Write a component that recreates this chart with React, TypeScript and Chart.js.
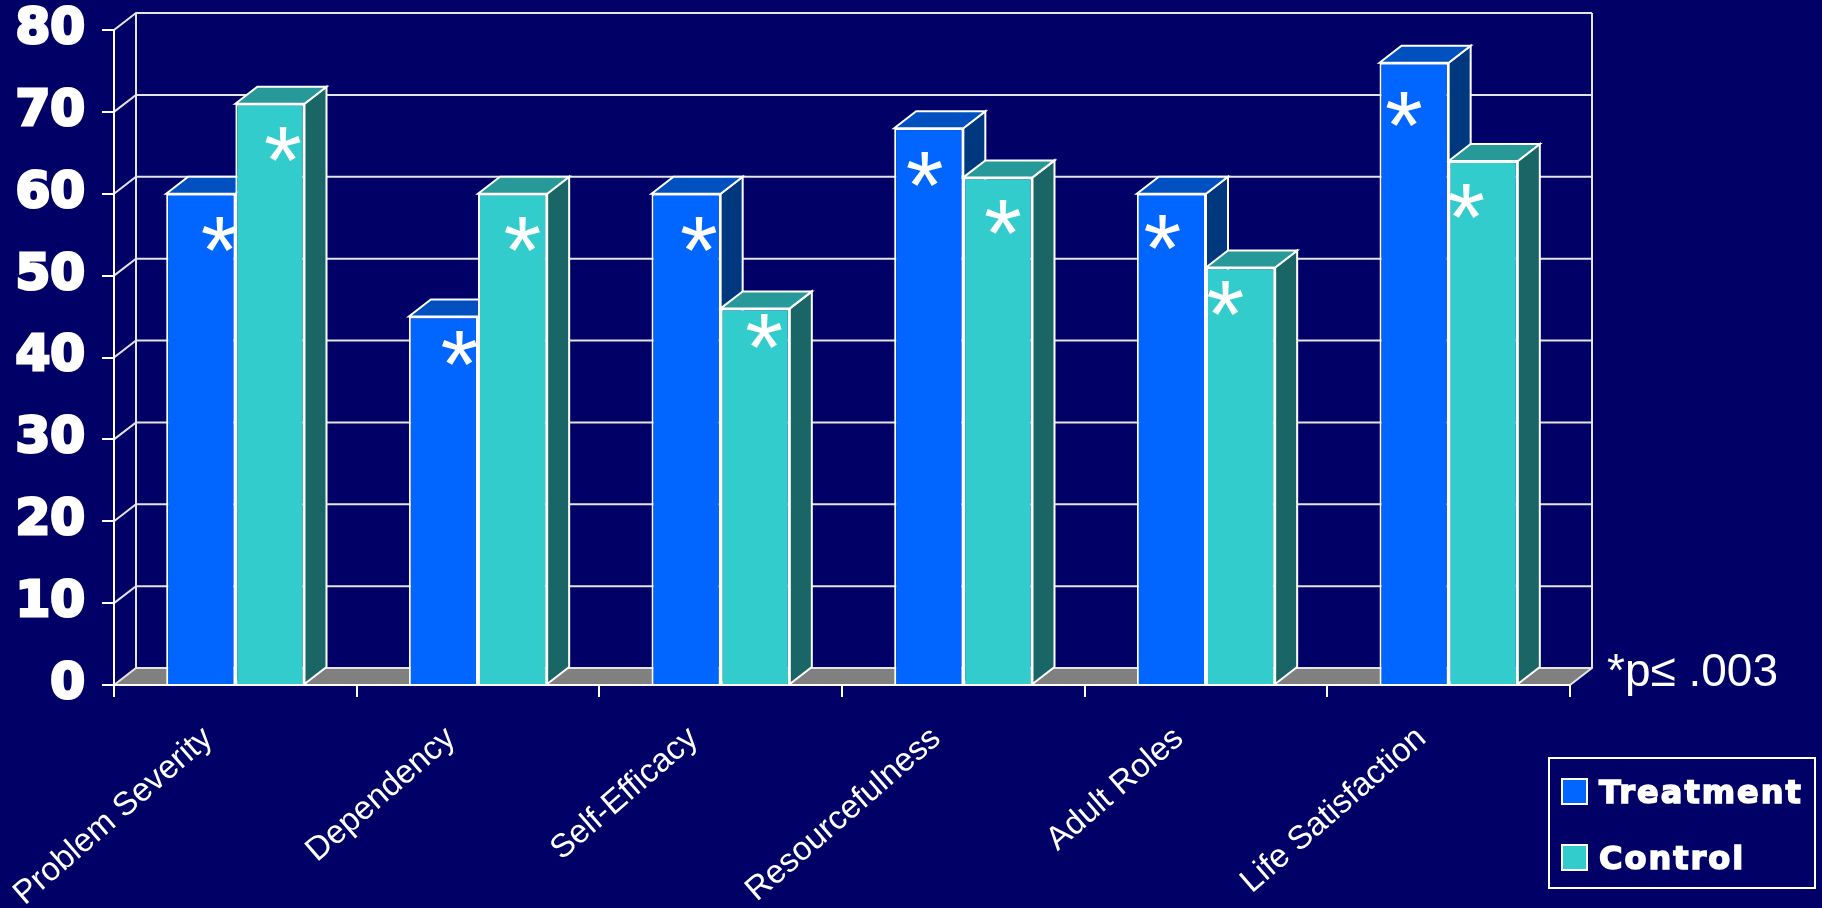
import React, { useEffect, useRef } from 'react';
import { Chart, registerables } from 'chart.js';

Chart.register(...registerables);

// ---------- data ----------
const categories = ['Problem Severity', 'Dependency', 'Self-Efficacy', 'Resourcefulness', 'Adult Roles', 'Life Satisfaction'];
const seriesLabels = ['Treatment', 'Control'];
const treatmentValues = [60, 45, 60, 68, 60, 76];
const controlValues = [71, 60, 46, 62, 51, 64];
const yTickValues = [0, 10, 20, 30, 40, 50, 60, 70, 80];
const barMarker = '*';
const significanceNote = '*p\u2264 .003';

// ---------- styling ----------
const BG = '#000066';
const FRONT = ['#0066FF', '#33CCCC'];
const TOP = ['#0050C0', '#279999'];
const SIDE = ['#00387F', '#1A6666'];
const FLOOR = '#808080';
const GRID = '#E4E4E4';
const DX = 22;
const DY = 17;
const markerShiftX = [[19, 16, 13, -4, -9, -10], [13, 10, 9, 5, -15, -17]];
const markerShiftY = [[40, 31, 40, 41, 38, 46], [40, 40, 23, 40, 31, 40]];

function poly(ctx: CanvasRenderingContext2D, pts: number[][]) {
  ctx.beginPath();
  ctx.moveTo(pts[0][0], pts[0][1]);
  for (let i = 1; i < pts.length; i++) ctx.lineTo(pts[i][0], pts[i][1]);
  ctx.closePath();
}

function drawGlyph(ctx: CanvasRenderingContext2D, glyph: string, family: string, cx: number, cy: number, h = 35) {
  ctx.save();
  ctx.font = `100px ${family}`;
  let m = ctx.measureText(glyph);
  const h100 = m.actualBoundingBoxAscent + m.actualBoundingBoxDescent;
  const size = (100 * h) / Math.max(h100, 1);
  ctx.font = `${size}px ${family}`;
  m = ctx.measureText(glyph);
  ctx.textAlign = 'left';
  ctx.textBaseline = 'alphabetic';
  const bx = cx - (m.actualBoundingBoxRight - m.actualBoundingBoxLeft) / 2;
  const by = cy + (m.actualBoundingBoxAscent - m.actualBoundingBoxDescent) / 2;
  ctx.fillStyle = '#FFFFFF';
  ctx.fillText(glyph, bx, by);
  ctx.restore();
}

const threeD = {
  id: 'threeD',
  beforeDraw(chart: any) {
    const ctx = chart.ctx;
    ctx.save();
    ctx.fillStyle = BG;
    ctx.fillRect(0, 0, chart.width, chart.height);
    ctx.restore();
  },
  beforeDatasetsDraw(chart: any) {
    const ctx: CanvasRenderingContext2D = chart.ctx;
    const { left, right, top, bottom } = chart.chartArea;
    const ys = chart.scales.y;
    ctx.save();
    ctx.fillStyle = FLOOR;
    poly(ctx, [[left, bottom], [right, bottom], [right + DX, bottom - DY], [left + DX, bottom - DY]]);
    ctx.fill();
    ctx.strokeStyle = GRID;
    ctx.lineWidth = 2;
    yTickValues.forEach((v) => {
      const py = ys.getPixelForValue(v);
      ctx.beginPath();
      ctx.moveTo(left, py);
      ctx.lineTo(left + DX, py - DY);
      ctx.lineTo(right + DX, py - DY);
      ctx.stroke();
    });
    ctx.beginPath();
    ctx.moveTo(left + DX, top - DY);
    ctx.lineTo(left + DX, bottom - DY);
    ctx.moveTo(right + DX, top - DY);
    ctx.lineTo(right + DX, bottom - DY);
    ctx.lineTo(right, bottom);
    ctx.stroke();
    ctx.strokeStyle = '#FFFFFF';
    ctx.beginPath();
    ctx.moveTo(left, top);
    ctx.lineTo(left, bottom);
    ctx.lineTo(right, bottom);
    ctx.stroke();
    const metas = [chart.getDatasetMeta(0), chart.getDatasetMeta(1)];
    for (let i = 0; i < categories.length; i++) {
      metas.forEach((meta: any, d: number) => {
        const el = meta.data[i];
        if (!el) return;
        const { x, y, base, width } = el.getProps(['x', 'y', 'base', 'width'], true);
        const x0 = x - width / 2;
        const x1 = x + width / 2;
        ctx.fillStyle = SIDE[d];
        poly(ctx, [[x1, y], [x1 + DX, y - DY], [x1 + DX, base - DY], [x1, base]]);
        ctx.fill();
        ctx.stroke();
        ctx.fillStyle = TOP[d];
        poly(ctx, [[x0, y], [x0 + DX, y - DY], [x1 + DX, y - DY], [x1, y]]);
        ctx.fill();
        ctx.stroke();
      });
    }
    ctx.restore();
  },
  afterDatasetDraw(chart: any, args: any) {
    const d = args.index;
    const ctx: CanvasRenderingContext2D = chart.ctx;
    const meta = chart.getDatasetMeta(d);
    meta.data.forEach((el: any, i: number) => {
      const { x, y } = el.getProps(['x', 'y'], true);
      drawGlyph(ctx, barMarker, '"Liberation Sans"', x + markerShiftX[d][i], y + markerShiftY[d][i]);
    });
  },
  afterDraw(chart: any) {
    const ctx: CanvasRenderingContext2D = chart.ctx;
    ctx.save();
    ctx.fillStyle = '#FFFFFF';
    ctx.font = '46px "Liberation Sans"';
    ctx.textAlign = 'left';
    ctx.textBaseline = 'alphabetic';
    ctx.fillText(significanceNote, 1607, 686);
    ctx.strokeStyle = '#FFFFFF';
    ctx.lineWidth = 2;
    ctx.strokeRect(1549, 758, 266, 130);
    ctx.font = 'bold 32px "DejaVu Sans"';
    (ctx as any).letterSpacing = '2px';
    const rows = [791, 857];
    chart.data.datasets.forEach((ds: any, d: number) => {
      const cy = rows[d];
      ctx.fillStyle = ds.backgroundColor;
      ctx.lineWidth = 2;
      ctx.fillRect(1562, cy - 12, 25, 25);
      ctx.strokeRect(1562, cy - 12, 25, 25);
      ctx.fillStyle = '#FFFFFF';
      ctx.lineWidth = 1.5;
      ctx.fillText(ds.label, 1599, cy + 12);
      ctx.strokeText(ds.label, 1599, cy + 12);
    });
    ctx.restore();
  },
};

export default function App() {
  const ref = useRef<HTMLCanvasElement>(null);
  useEffect(() => {
    if (!ref.current) return;
    const chart = new Chart(ref.current, {
      type: 'bar',
      data: {
        labels: categories,
        datasets: [
          {
            label: seriesLabels[0],
            data: treatmentValues,
            backgroundColor: FRONT[0],
            borderColor: '#FFFFFF',
            borderWidth: 2,
            barPercentage: 1,
            categoryPercentage: 0.57,
          },
          {
            label: seriesLabels[1],
            data: controlValues,
            backgroundColor: FRONT[1],
            borderColor: '#FFFFFF',
            borderWidth: 2,
            barPercentage: 1,
            categoryPercentage: 0.57,
          },
        ],
      },
      options: {
        responsive: false,
        animation: false,
        layout: { padding: { left: 0, top: 30, right: 252, bottom: 0 } },
        plugins: { legend: { display: false }, tooltip: { enabled: false } },
        scales: {
          x: {
            grid: { display: true, drawOnChartArea: false, drawTicks: true, tickLength: 12, color: '#FFFFFF', lineWidth: 2, offset: true },
            border: { display: false },
            ticks: {
              color: '#FFFFFF',
              font: { family: 'Liberation Sans', size: 33 },
              maxRotation: 41,
              minRotation: 41,
              autoSkip: false,
              padding: 22,
              labelOffset: -27,
            },
            afterFit: (s: any) => {
              s.height = 223;
              s.paddingLeft = 0;
              s.paddingRight = 0;
            },
          },
          y: {
            min: 0,
            max: 80,
            afterBuildTicks: (s: any) => {
              s.ticks = yTickValues.map((v) => ({ value: v }));
            },
            grid: { display: true, drawOnChartArea: false, drawTicks: true, tickLength: 12, color: '#FFFFFF', lineWidth: 2 },
            border: { display: false },
            ticks: {
              color: '#FFFFFF',
              font: { family: 'DejaVu Sans', size: 50, weight: 'bold' },
              textStrokeColor: '#FFFFFF',
              textStrokeWidth: 3,
              padding: 17,
            },
            afterFit: (s: any) => {
              s.width = 114;
              s.paddingTop = 0;
              s.paddingBottom = 0;
            },
          },
        },
      },
      plugins: [threeD],
    });
    return () => chart.destroy();
  }, []);
  return (
    <div style={{ position: 'absolute', left: 0, top: 0, width: 1822, height: 908, background: BG }}>
      <canvas ref={ref} width={1822} height={908} style={{ display: 'block' }} />
    </div>
  );
}
